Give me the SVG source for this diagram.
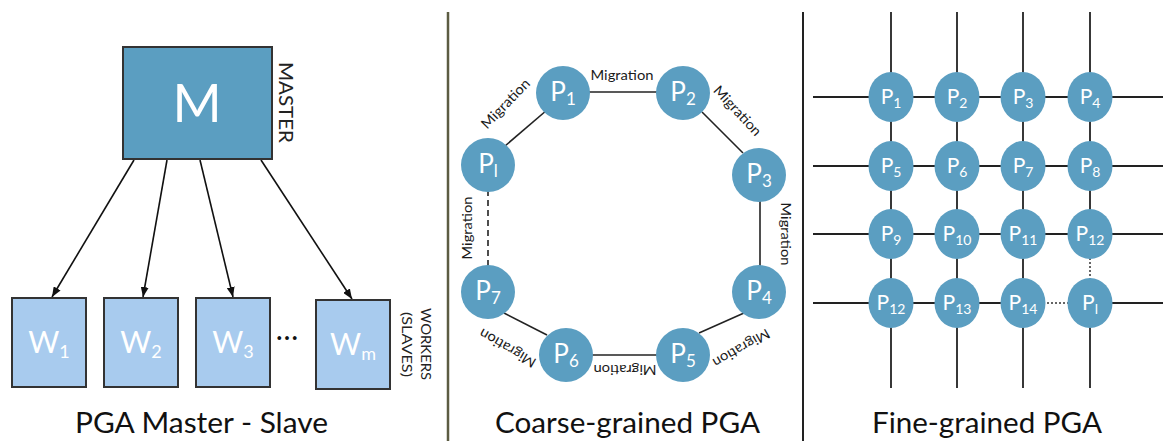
<svg xmlns="http://www.w3.org/2000/svg" width="1163" height="441" viewBox="0 0 1163 441">
<defs>
<style>
text{font-family:Lato,"Open Sans","DejaVu Sans",sans-serif}
.box{fill:#5B9EC1;stroke:#333;stroke-width:2}
.wbox{fill:#A8CBEE;stroke:#333;stroke-width:2}
.node{fill:#5B9EC1}
.wl{fill:#fff;font-size:30px;text-anchor:middle}
.cl{fill:#fff;font-size:26px;text-anchor:middle}
.gl{fill:#fff;font-size:21px;text-anchor:middle}
.mig{fill:#1a1a1a;font-size:14px;text-anchor:middle}
.title{fill:#111;font-size:28px}
.edge{stroke:#222;stroke-width:1.6;fill:none}
.grid{stroke:#222;stroke-width:1.8;fill:none}
.dot{stroke:#333;stroke-width:1.5;stroke-dasharray:2 2;fill:none}
.arrow{stroke:#111;stroke-width:1.6;fill:none;marker-end:url(#arr)}
</style>
<marker id="arr" markerWidth="10" markerHeight="8" refX="10" refY="4" orient="auto" markerUnits="userSpaceOnUse"><path d="M0,0 L10,4 L0,8 z" fill="#111"/></marker>
</defs>
<rect width="1163" height="441" fill="#fff"/>

<!-- separators -->
<line x1="448" y1="12" x2="448" y2="441" stroke="#5c5c42" stroke-width="2.5"/>
<line x1="803" y1="12" x2="803" y2="441" stroke="#222" stroke-width="2"/>

<!-- Master-slave connectors -->
<g id="ms-connectors">
<line class="arrow" x1="134" y1="160" x2="52" y2="297"/>
<line class="arrow" x1="167" y1="160" x2="143" y2="297"/>
<line class="arrow" x1="200" y1="160" x2="233" y2="297"/>
<line class="arrow" x1="261" y1="160" x2="352" y2="299"/>
</g>

<g id="master">
<rect class="box" x="123" y="47" width="149" height="112"/>
<text x="197" y="122" fill="#fff" font-size="53" text-anchor="middle">M</text>
<text transform="translate(279,62) rotate(90)" x="0" y="0" font-size="19" fill="#222" textLength="81" lengthAdjust="spacingAndGlyphs">MASTER</text>
</g>
<g id="w1"><rect class="wbox" x="12" y="298" width="74" height="89"/><text class="wl" x="49" y="353">W<tspan font-size="18" dy="5">1</tspan></text></g>
<g id="w2"><rect class="wbox" x="104" y="298" width="74" height="89"/><text class="wl" x="141" y="353">W<tspan font-size="18" dy="5">2</tspan></text></g>
<g id="w3"><rect class="wbox" x="196" y="298" width="74" height="89"/><text class="wl" x="233" y="353">W<tspan font-size="18" dy="5">3</tspan></text></g>
<g id="wm"><rect class="wbox" x="316" y="300" width="74" height="89"/><text class="wl" x="353" y="355">W<tspan font-size="18" dy="5">m</tspan></text></g>
<text x="287" y="340" font-size="30" fill="#111" text-anchor="middle">…</text>
<g id="workers-label" fill="#222" font-size="13">
<text transform="translate(421,308) rotate(90)" textLength="72" lengthAdjust="spacingAndGlyphs">WORKERS</text>
<text transform="translate(402,312) rotate(90)" textLength="65" lengthAdjust="spacingAndGlyphs">(SLAVES)</text>
</g>
<text class="title" x="75" y="433" textLength="253" lengthAdjust="spacingAndGlyphs">PGA Master - Slave</text>

<!-- Coarse-grained -->
<g id="coarse-connectors">
<line class="edge" x1="585" y1="92" x2="660" y2="92"/>
<line class="edge" x1="547" y1="110" x2="505" y2="146"/>
<line class="edge" x1="702" y1="112" x2="743" y2="153"/>
<line class="edge" x1="760" y1="195" x2="760" y2="270"/>
<line class="edge" x1="488" y1="190" x2="488" y2="268" stroke-dasharray="6 4"/>
<line class="edge" x1="504" y1="313" x2="547" y2="335"/>
<line class="edge" x1="699" y1="333" x2="744" y2="313"/>
<line class="edge" x1="588" y1="355" x2="660" y2="355"/>
<g id="mig-labels">
<text class="mig" x="622" y="80" textLength="63" lengthAdjust="spacingAndGlyphs">Migration</text>
<text class="mig" transform="translate(509,107) rotate(-46)" textLength="63" lengthAdjust="spacingAndGlyphs">Migration</text>
<text class="mig" transform="translate(734,114) rotate(47)" textLength="63" lengthAdjust="spacingAndGlyphs">Migration</text>
<text class="mig" transform="translate(781,234) rotate(90)" textLength="63" lengthAdjust="spacingAndGlyphs">Migration</text>
<text class="mig" transform="translate(472,228) rotate(-90)" textLength="63" lengthAdjust="spacingAndGlyphs">Migration</text>
<text class="mig" transform="translate(510,344) rotate(-150)" textLength="63" lengthAdjust="spacingAndGlyphs">Migration</text>
<text class="mig" transform="translate(625,365) rotate(180)" textLength="63" lengthAdjust="spacingAndGlyphs">Migration</text>
<text class="mig" transform="translate(739,344) rotate(150)" textLength="63" lengthAdjust="spacingAndGlyphs">Migration</text>
</g>
</g>
<g id="c-p1"><circle class="node" cx="563" cy="93" r="27"/><text class="cl" x="563" y="101">P<tspan font-size="17" dy="4">1</tspan></text></g>
<g id="c-p2"><circle class="node" cx="683" cy="93" r="27"/><text class="cl" x="683" y="101">P<tspan font-size="17" dy="4">2</tspan></text></g>
<g id="c-p3"><circle class="node" cx="759" cy="175" r="27"/><text class="cl" x="759" y="183">P<tspan font-size="17" dy="4">3</tspan></text></g>
<g id="c-p4"><circle class="node" cx="759" cy="292" r="27"/><text class="cl" x="759" y="300">P<tspan font-size="17" dy="4">4</tspan></text></g>
<g id="c-p5"><circle class="node" cx="683" cy="355" r="27"/><text class="cl" x="683" y="363">P<tspan font-size="17" dy="4">5</tspan></text></g>
<g id="c-p6"><circle class="node" cx="566" cy="355" r="27"/><text class="cl" x="566" y="363">P<tspan font-size="17" dy="4">6</tspan></text></g>
<g id="c-p7"><circle class="node" cx="488" cy="292" r="27"/><text class="cl" x="488" y="300">P<tspan font-size="17" dy="4">7</tspan></text></g>
<g id="c-pl"><circle class="node" cx="488" cy="165" r="27"/><text class="cl" x="488" y="173">P<tspan font-size="17" dy="4">l</tspan></text></g>
<text class="title" x="495" y="433" textLength="265" lengthAdjust="spacingAndGlyphs">Coarse-grained PGA</text>

<!-- Fine-grained -->
<g id="grid-connectors">
<line class="grid" x1="813" y1="97" x2="1163" y2="97"/>
<line class="grid" x1="813" y1="166" x2="1163" y2="166"/>
<line class="grid" x1="813" y1="234" x2="1163" y2="234"/>
<line class="grid" x1="813" y1="303" x2="1023" y2="303"/>
<line class="dot" x1="1023" y1="303" x2="1090" y2="303"/>
<line class="grid" x1="1090" y1="303" x2="1163" y2="303"/>
<line class="grid" x1="891" y1="12" x2="891" y2="388"/>
<line class="grid" x1="957" y1="12" x2="957" y2="388"/>
<line class="grid" x1="1023" y1="12" x2="1023" y2="388"/>
<line class="grid" x1="1090" y1="12" x2="1090" y2="234"/>
<line class="dot" x1="1090" y1="234" x2="1090" y2="303"/>
<line class="grid" x1="1090" y1="303" x2="1090" y2="388"/>
</g>
<g id="g-p1"><ellipse class="node" cx="891" cy="97" rx="22.5" ry="25"/><text class="gl" x="891" y="104">P<tspan font-size="14" dy="4">1</tspan></text></g>
<g id="g-p2"><ellipse class="node" cx="957" cy="97" rx="22.5" ry="25"/><text class="gl" x="957" y="104">P<tspan font-size="14" dy="4">2</tspan></text></g>
<g id="g-p3"><ellipse class="node" cx="1023" cy="97" rx="22.5" ry="25"/><text class="gl" x="1023" y="104">P<tspan font-size="14" dy="4">3</tspan></text></g>
<g id="g-p4"><ellipse class="node" cx="1090" cy="97" rx="22.5" ry="25"/><text class="gl" x="1090" y="104">P<tspan font-size="14" dy="4">4</tspan></text></g>
<g id="g-p5"><ellipse class="node" cx="891" cy="166" rx="22.5" ry="25"/><text class="gl" x="891" y="173">P<tspan font-size="14" dy="4">5</tspan></text></g>
<g id="g-p6"><ellipse class="node" cx="957" cy="166" rx="22.5" ry="25"/><text class="gl" x="957" y="173">P<tspan font-size="14" dy="4">6</tspan></text></g>
<g id="g-p7"><ellipse class="node" cx="1023" cy="166" rx="22.5" ry="25"/><text class="gl" x="1023" y="173">P<tspan font-size="14" dy="4">7</tspan></text></g>
<g id="g-p8"><ellipse class="node" cx="1090" cy="166" rx="22.5" ry="25"/><text class="gl" x="1090" y="173">P<tspan font-size="14" dy="4">8</tspan></text></g>
<g id="g-p9"><ellipse class="node" cx="891" cy="234" rx="22.5" ry="25"/><text class="gl" x="891" y="241">P<tspan font-size="14" dy="4">9</tspan></text></g>
<g id="g-p10"><ellipse class="node" cx="957" cy="234" rx="22.5" ry="25"/><text class="gl" x="957" y="241">P<tspan font-size="14" dy="4">10</tspan></text></g>
<g id="g-p11"><ellipse class="node" cx="1023" cy="234" rx="22.5" ry="25"/><text class="gl" x="1023" y="241">P<tspan font-size="14" dy="4">11</tspan></text></g>
<g id="g-p12a"><ellipse class="node" cx="1090" cy="234" rx="22.5" ry="25"/><text class="gl" x="1090" y="241">P<tspan font-size="14" dy="4">12</tspan></text></g>
<g id="g-p12b"><ellipse class="node" cx="891" cy="303" rx="22.5" ry="25"/><text class="gl" x="891" y="310">P<tspan font-size="14" dy="4">12</tspan></text></g>
<g id="g-p13"><ellipse class="node" cx="957" cy="303" rx="22.5" ry="25"/><text class="gl" x="957" y="310">P<tspan font-size="14" dy="4">13</tspan></text></g>
<g id="g-p14"><ellipse class="node" cx="1023" cy="303" rx="22.5" ry="25"/><text class="gl" x="1023" y="310">P<tspan font-size="14" dy="4">14</tspan></text></g>
<g id="g-pl"><ellipse class="node" cx="1090" cy="303" rx="22.5" ry="25"/><text class="gl" x="1090" y="310">P<tspan font-size="14" dy="4">l</tspan></text></g>
<text class="title" x="872" y="433" textLength="230" lengthAdjust="spacingAndGlyphs">Fine-grained PGA</text>
</svg>
